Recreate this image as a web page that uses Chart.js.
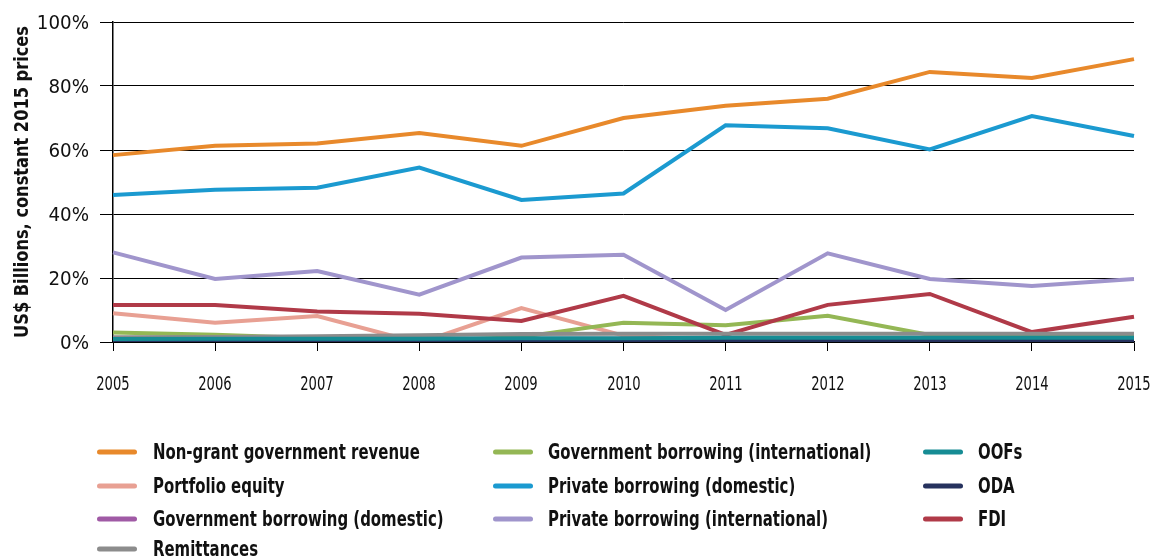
<!DOCTYPE html>
<html>
<head>
<meta charset="utf-8">
<script src="https://cdn.jsdelivr.net/npm/chart.js@4"></script>
<style>
  html, body { margin: 0; padding: 0; background: #fff; }
  body { width: 1153px; height: 558px; position: relative; overflow: hidden;
         font-family: "DejaVu Sans", sans-serif; font-stretch: condensed; color: #111; }
  #wrap { position: absolute; left: 0; top: 0; width: 1153px; height: 420px; }
  #overlay, #legend { position: absolute; left: 0; top: 0; width: 1153px; height: 558px; pointer-events: none; }
  .item { position: absolute; font-weight: bold; font-size: 21px; white-space: nowrap;
          transform-origin: 0 50%; transform: translateY(-50%) scaleX(0.79); }
  .swatch { position: absolute; width: 40px; height: 5px; border-radius: 3px; transform: translateY(-50%); }
  .ytick { position: absolute; font-size: 19.5px; white-space: nowrap;
           transform-origin: 100% 50%; transform: translate(-100%, -50%) scaleX(1.04); }
  .xtick { position: absolute; font-size: 19px; white-space: nowrap;
           transform: translate(-50%, -50%) scaleX(0.77); }
  .ytitle { position: absolute; font-weight: bold; font-size: 20px; white-space: nowrap;
            transform: translate(-50%, -50%) rotate(-90deg) scaleX(0.9); }
</style>
</head>
<body>
<div id="wrap"><canvas id="chart"></canvas></div>
<div id="overlay"></div>
<div id="legend"></div>
<script>
const years = ['2005', '2006', '2007', '2008', '2009', '2010', '2011', '2012', '2013', '2014', '2015'];
const yTicks = [0, 20, 40, 60, 80, 100];
const yTitle = 'US$ Billions, constant 2015 prices';

const nonGrantRevenue = [58.4, 61.3, 62.0, 65.3, 61.3, 70.0, 73.8, 76.0, 84.4, 82.5, 88.4];
const privateDomestic = [45.9, 47.6, 48.2, 54.5, 44.4, 46.4, 67.7, 66.8, 60.2, 70.6, 64.4];
const privateIntl = [28.0, 19.7, 22.2, 14.8, 26.4, 27.3, 10.0, 27.7, 19.7, 17.5, 19.7];
const fdi = [11.6, 11.6, 9.5, 8.8, 6.6, 14.4, 2.2, 11.6, 15.0, 3.1, 7.9];
const portfolioEquity = [9.0, 6.0, 8.1, -0.3, 10.6, 2.0, 0.4, 0.4, 0.4, 0.4, 0.4];
const govBorrowingIntl = [3.0, 2.3, 1.2, 0.2, 1.6, 6.0, 5.2, 8.2, 2.2, 2.2, 2.2];
const remittances = [1.5, 1.6, 1.8, 2.1, 2.5, 2.6, 2.6, 2.6, 2.6, 2.6, 2.6];
const govBorrowingDomestic = [0.9, 0.9, 0.9, 0.9, 1.0, 1.0, 1.0, 1.0, 1.0, 1.0, 1.0];
const oda = [0.5, 0.5, 0.5, 0.5, 0.6, 0.6, 0.6, 0.6, 0.6, 0.6, 0.6];
const oofs = [0.9, 1.0, 1.0, 1.0, 1.2, 1.2, 1.3, 1.3, 1.3, 1.3, 1.3];

const SERIES = [
  { label: 'Non-grant government revenue', data: nonGrantRevenue, color: '#E8892B', col: 0, row: 0 },
  { label: 'Government borrowing (international)', data: govBorrowingIntl, color: '#94B755', col: 1, row: 0 },
  { label: 'OOFs', data: oofs, color: '#168C94', col: 2, row: 0 },
  { label: 'Portfolio equity', data: portfolioEquity, color: '#E8A093', col: 0, row: 1 },
  { label: 'Private borrowing (domestic)', data: privateDomestic, color: '#1B9AD0', col: 1, row: 1 },
  { label: 'ODA', data: oda, color: '#26325E', col: 2, row: 1 },
  { label: 'Government borrowing (domestic)', data: govBorrowingDomestic, color: '#A05AA5', col: 0, row: 2 },
  { label: 'Private borrowing (international)', data: privateIntl, color: '#A095CC', col: 1, row: 2 },
  { label: 'FDI', data: fdi, color: '#B03A48', col: 2, row: 2 },
  { label: 'Remittances', data: remittances, color: '#8C8C8C', col: 0, row: 3 },
];

// drawing order: small flows on top like the original
const DRAW_ORDER = {
  'OOFs': 0, 'ODA': 1, 'Remittances': 2, 'Government borrowing (domestic)': 3,
  'FDI': 4, 'Government borrowing (international)': 5, 'Portfolio equity': 6,
  'Private borrowing (international)': 7, 'Private borrowing (domestic)': 8,
  'Non-grant government revenue': 9,
};

// canvas text can't pick the condensed face, so axis text is put in html
// at the positions the chart's own scales report
const axisText = {
  id: 'axisText',
  afterDraw(chart) {
    const box = document.getElementById('overlay');
    box.innerHTML = '';
    const { x, y } = chart.scales;
    for (const v of yTicks) {
      const el = document.createElement('div');
      el.className = 'ytick';
      el.textContent = v + '%';
      el.style.left = (y.right - 24) + 'px';
      el.style.top = y.getPixelForValue(v) + 'px';
      box.append(el);
    }
    x.ticks.forEach((t, i) => {
      const el = document.createElement('div');
      el.className = 'xtick';
      el.textContent = years[i];
      el.style.left = x.getPixelForTick(i) + 'px';
      el.style.top = (x.top + 41) + 'px';
      box.append(el);
    });
    const title = document.createElement('div');
    title.className = 'ytitle';
    title.textContent = yTitle;
    title.style.left = '21px';
    title.style.top = ((chart.chartArea.top + chart.chartArea.bottom) / 2) + 'px';
    box.append(title);
  },
};

new Chart(document.getElementById('chart'), {
  type: 'line',
  data: {
    labels: years,
    datasets: SERIES.map((s) => ({
      label: s.label,
      data: s.data,
      borderColor: s.color,
      backgroundColor: s.color,
      borderWidth: 4,
      pointRadius: 0,
      tension: 0,
      order: DRAW_ORDER[s.label],
    })),
  },
  plugins: [axisText],
  options: {
    responsive: true,
    maintainAspectRatio: false,
    animation: false,
    layout: { padding: { top: 22, right: 19, left: 0, bottom: 0 } },
    plugins: { legend: { display: false }, tooltip: { enabled: false } },
    scales: {
      x: {
        offset: false,
        grid: { drawOnChartArea: false, color: '#000', tickLength: 9, lineWidth: 1 },
        border: { color: '#000', width: 1.5 },
        ticks: { display: false },
        afterFit: (scale) => { scale.height = 78; },
      },
      y: {
        min: 0,
        max: 100,
        afterBuildTicks: (scale) => { scale.ticks = yTicks.map((v) => ({ value: v })); },
        grid: { color: '#000', lineWidth: 1, tickLength: 13 },
        border: { color: '#000', width: 1.5 },
        ticks: { display: false },
        afterFit: (scale) => { scale.width = 113; },
      },
    },
  },
});

// legend laid out in three columns, like the original
const legend = document.getElementById('legend');
const COL_SWATCH_X = [97, 493, 923];
const COL_TEXT_X = [153, 548, 978];
const ROW_Y = [452, 486, 519, 549];
for (const s of SERIES) {
  const sw = document.createElement('div');
  sw.className = 'swatch';
  sw.style.left = COL_SWATCH_X[s.col] + 'px';
  sw.style.top = ROW_Y[s.row] + 'px';
  sw.style.background = s.color;
  legend.append(sw);
  const txt = document.createElement('div');
  txt.className = 'item';
  txt.style.left = COL_TEXT_X[s.col] + 'px';
  txt.style.top = ROW_Y[s.row] + 'px';
  txt.textContent = s.label;
  legend.append(txt);
}
</script>
</body>
</html>
